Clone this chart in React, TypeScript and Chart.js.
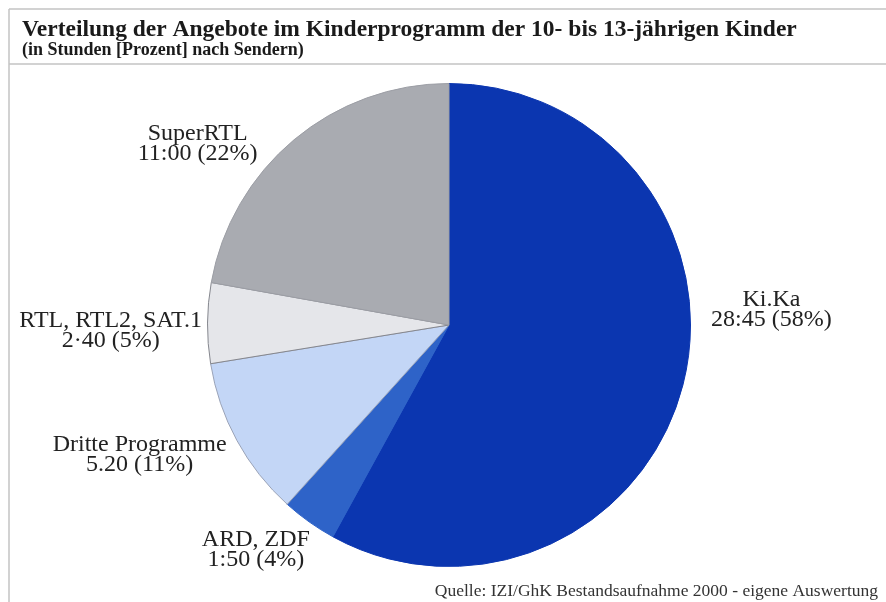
import React, { useEffect, useRef } from "react";
import { Chart, registerables } from "chart.js";

Chart.register(...registerables);

const TITLE = "Verteilung der Angebote im Kinderprogramm der 10- bis 13-jährigen Kinder";
const SUBTITLE = "(in Stunden [Prozent] nach Sendern)";
const SOURCE = "Quelle: IZI/GhK Bestandsaufnahme 2000 - eigene Auswertung";

const channels = ["Ki.Ka", "ARD, ZDF", "Dritte Programme", "RTL, RTL2, SAT.1", "SuperRTL"];
const minutes = [1725, 110, 320, 160, 660];
const timeLabels = ["28:45", "1:50", "5.20", "2·40", "11:00"];
const percentLabels = ["58%", "4%", "11%", "5%", "22%"];

const fillColors = ["#0b36b0", "#2e63c8", "#c3d6f6", "#e5e6ea", "#a9abb1"];
const edgeColors = ["#0b36b0", "#2e63c8", "#9aa3b8", "#85878e", "#9c9ea5"];
// label anchor as multiples of the pie radius from its centre
const labelPlace = [
  [1.335, -0.062],
  [-0.8, 0.93],
  [-1.281, 0.537],
  [-1.401, 0.025],
  [-1.041, -0.752],
];

const SERIF = '"Liberation Serif", "DejaVu Serif", serif';

export default function App() {
  const ref = useRef<HTMLCanvasElement | null>(null);
  useEffect(() => {
    document.body.style.margin = "0";
    const canvas = ref.current!;
    const decor = {
      id: "decor",
      beforeDraw(chart: any) {
        const c = chart.ctx;
        c.save();
        c.fillStyle = "#ffffff";
        c.fillRect(0, 0, chart.width, chart.height);
        c.strokeStyle = "#c4c4c4";
        c.lineWidth = 1.5;
        c.beginPath();
        c.moveTo(9, 9);
        c.lineTo(chart.width, 9);
        c.moveTo(9, 64);
        c.lineTo(chart.width, 64);
        c.moveTo(9, 9);
        c.lineTo(9, chart.height);
        c.stroke();
        c.restore();
      },
      afterDraw(chart: any) {
        const c = chart.ctx;
        c.save();
        c.fillStyle = "#1a1a1a";
        c.textBaseline = "alphabetic";
        c.textAlign = "left";
        c.font = `bold 23.5px ${SERIF}`;
        c.fillText(TITLE, 22, 36);
        c.font = `bold 18px ${SERIF}`;
        c.fillText(SUBTITLE, 22, 55);
        c.font = `17.5px ${SERIF}`;
        c.textAlign = "right";
        c.fillStyle = "#333";
        c.fillText(SOURCE, 878, 596);

        const meta = chart.getDatasetMeta(0);
        const arc = meta.data[0];
        const cx = arc.x;
        const cy = arc.y;
        const r = arc.outerRadius;
        c.textAlign = "center";
        c.textBaseline = "middle";
        c.fillStyle = "#222";
        c.font = `24px ${SERIF}`;
        channels.forEach((name, i) => {
          const x = cx + r * labelPlace[i][0];
          const y = cy + r * labelPlace[i][1];
          c.fillText(name, x, y - 10);
          c.fillText(`${timeLabels[i]} (${percentLabels[i]})`, x, y + 10);
        });
        c.restore();
      },
    };
    const chart = new Chart(canvas, {
      type: "pie",
      data: {
        labels: channels,
        datasets: [
          {
            data: minutes,
            backgroundColor: fillColors,
            borderColor: edgeColors,
            borderWidth: 1,
          },
        ],
      },
      options: {
        responsive: false,
        animation: false,
        layout: { padding: { top: 83, bottom: 35, left: 24, right: 12 } },
        plugins: {
          legend: { display: false },
          tooltip: { enabled: false },
          title: { display: false },
        },
      },
      plugins: [decor],
    });
    return () => chart.destroy();
  }, []);
  return (
    <div style={{ position: "fixed", left: 0, top: 0, width: 886, height: 602 }}>
      <canvas ref={ref} width={886} height={602} />
    </div>
  );
}
